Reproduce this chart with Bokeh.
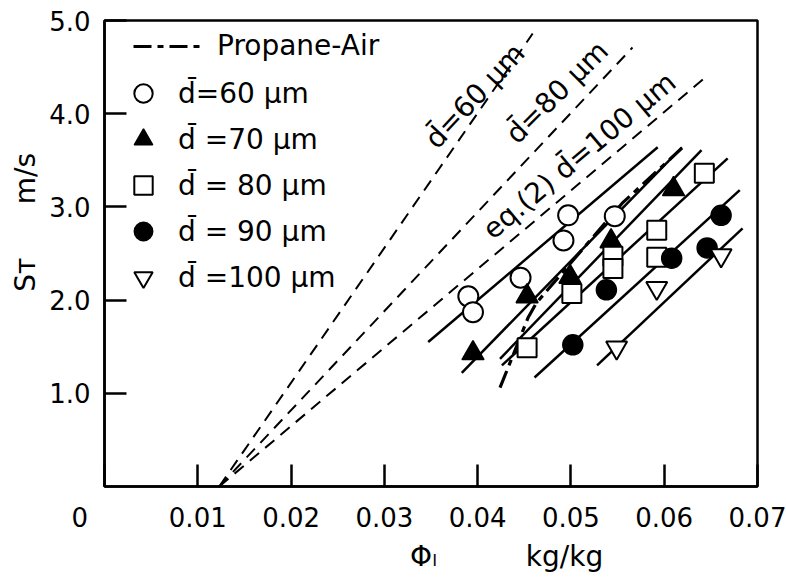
import math
from bokeh.plotting import figure
from bokeh.models import Range1d, FixedTicker, Label, Legend, LegendItem
from bokeh.embed import file_html
from bokeh.resources import INLINE

FONT = "DejaVu Sans"
NB = "\u00a0"

# ---------------- data ----------------
x_ticks = [0.0, 0.01, 0.02, 0.03, 0.04, 0.05, 0.06, 0.07]
x_tick_labels = ["0" + NB * 6, "0.01", "0.02", "0.03", "0.04", "0.05", "0.06", "0.07"]
y_ticks = [1.0, 2.0, 3.0, 4.0, 5.0]
y_tick_labels = ["1.0", "2.0", "3.0", "4.0", "5.0"]

# measured points
x_60 = [0.0390, 0.0395, 0.0446, 0.0492, 0.0497, 0.0547]
y_60 = [2.04, 1.87, 2.24, 2.64, 2.91, 2.90]
x_70 = [0.0395, 0.0453, 0.0499, 0.0543, 0.0610]
y_70 = [1.43, 2.04, 2.25, 2.63, 3.19]
x_80 = [0.0453, 0.0501, 0.0545, 0.0545, 0.0592, 0.0592, 0.0643]
y_80 = [1.49, 2.07, 2.47, 2.34, 2.75, 2.46, 3.36]
x_90 = [0.0502, 0.0538, 0.0608, 0.0646, 0.0661]
y_90 = [1.52, 2.11, 2.45, 2.56, 2.91]
x_100 = [0.0549, 0.0592, 0.0661]
y_100 = [1.49, 2.13, 2.48]

# solid experimental fit lines (start / end)
fit_x0 = [0.0347, 0.0383, 0.0424, 0.0426, 0.0461, 0.0528]
fit_y0 = [1.55, 1.22, 1.37, 1.30, 1.17, 1.30]
fit_x1 = [0.0593, 0.0619, 0.0640, 0.0668, 0.0681, 0.0684]
fit_y1 = [3.64, 3.64, 3.61, 3.52, 3.18, 2.77]

# dashed theoretical lines (start / end)
th_x0 = [0.0123, 0.0123, 0.0123]
th_y0 = [0.0, 0.0, 0.0]
th_x1 = [0.0459, 0.0566, 0.0643]
th_y1 = [4.86, 4.71, 4.38]
th_labels = ["d\u0304=60 \u03bcm", "d\u0304=80 \u03bcm", "eq.(2) d\u0304=100 \u03bcm"]
th_label_x = [0.0397, 0.0485, 0.0509]
th_label_y = [4.19, 4.23, 3.55]
th_label_angle = [47, 45, 40]

# propane-air curve
pa_x = [0.0424, 0.0454, 0.0463, 0.0555, 0.0619]
pa_y = [1.06, 1.81, 1.97, 3.04, 3.63]

legend_labels = ["d\u0304=60 \u03bcm", "d\u0304 =70 \u03bcm", "d\u0304 = 80 \u03bcm",
                 "d\u0304 = 90 \u03bcm", "d\u0304 =100 \u03bcm"]

x_title = NB * 17 + "\u03a6\u2097" + NB * 10 + "kg/kg"
y_title = NB * 7 + "S\u1d1b" + NB * 6 + "m/s"

# ---------------- figure ----------------
p = figure(frame_width=653, frame_height=466,
           x_range=Range1d(0, 0.07), y_range=Range1d(0, 5.0),
           output_backend="svg", toolbar_location=None,
           min_border_left=104, min_border_right=29,
           min_border_top=20, min_border_bottom=92,
           background_fill_color="white", border_fill_color="white")

p.grid.visible = False
p.outline_line_color = "black"
p.outline_line_width = 2.5
p.outline_line_alpha = 1.0

for ax in (p.xaxis[0], p.yaxis[0]):
    ax.axis_line_width = 2.5
    ax.axis_line_color = "black"
    ax.major_tick_in = 22
    ax.major_tick_out = 0
    ax.major_tick_line_width = 2.5
    ax.major_tick_line_color = "black"
    ax.minor_tick_line_color = None
    ax.major_label_text_font = FONT
    ax.major_label_text_font_size = "26px"
    ax.major_label_text_color = "black"
    ax.axis_label_text_font = FONT
    ax.axis_label_text_font_size = "28px"
    ax.axis_label_text_font_style = "normal"
    ax.axis_label_text_color = "black"

p.xaxis.ticker = FixedTicker(ticks=x_ticks)
p.xaxis.major_label_overrides = {t: l for t, l in zip(x_ticks, x_tick_labels)}
p.xaxis.major_label_standoff = 16
p.xaxis.axis_label = x_title
p.xaxis.axis_label_standoff = 4
p.yaxis.ticker = FixedTicker(ticks=y_ticks)
p.yaxis.major_label_overrides = {t: l for t, l in zip(y_ticks, y_tick_labels)}
p.yaxis.major_label_standoff = 14
p.yaxis.axis_label = y_title
p.yaxis.axis_label_standoff = 4

# theoretical dashed lines
p.segment(x0=th_x0, y0=th_y0, x1=th_x1, y1=th_y1,
          line_color="black", line_width=2, line_dash="12 8")

# solid fits
p.segment(x0=fit_x0, y0=fit_y0, x1=fit_x1, y1=fit_y1,
          line_color="black", line_width=2.5)

# propane-air
r_pa = p.line(pa_x, pa_y, line_color="black", line_width=3.2, line_dash="18 6 6 6")

# markers
r60 = p.scatter(x_60, y_60, marker="circle", size=20, fill_color="white",
                line_color="black", line_width=2)
r70 = p.scatter(x_70, y_70, marker="triangle", size=22, fill_color="black",
                line_color="black", line_width=1.5)
r80 = p.scatter(x_80, y_80, marker="square", size=19, fill_color="white",
                line_color="black", line_width=2)
r90 = p.scatter(x_90, y_90, marker="circle", size=20, fill_color="black",
                line_color="black", line_width=1.5)
r100 = p.scatter(x_100, y_100, marker="inverted_triangle", size=21, fill_color="white",
                 line_color="black", line_width=2)

# legends
leg1 = Legend(items=[LegendItem(label="Propane-Air", renderers=[r_pa])],
              location=(29, 424), padding=0, margin=0, spacing=0,
              glyph_width=70, glyph_height=30, label_height=30,
              label_standoff=14, label_text_font=FONT, label_text_font_size="28px",
              label_text_color="black",
              border_line_color=None, background_fill_alpha=0)
p.add_layout(leg1, "center")

leg2 = Legend(items=[LegendItem(label=l, renderers=[r]) for l, r in
                     zip(legend_labels, [r60, r70, r80, r90, r100])],
              location=(16, 186), padding=0, margin=0, spacing=0,
              glyph_width=46, glyph_height=46, label_height=46,
              label_standoff=12, label_text_font=FONT, label_text_font_size="28px",
              label_text_color="black",
              border_line_color=None, background_fill_alpha=0)
p.add_layout(leg2, "center")

# labels along dashed lines
for t, lx, ly, a in zip(th_labels, th_label_x, th_label_y, th_label_angle):
    p.add_layout(Label(x=lx, y=ly, text=t, angle=math.radians(a),
                       text_align="center", text_baseline="middle",
                       text_font=FONT, text_font_size="28px", text_color="black"))

open("out.html", "w").write(file_html(p, INLINE))
